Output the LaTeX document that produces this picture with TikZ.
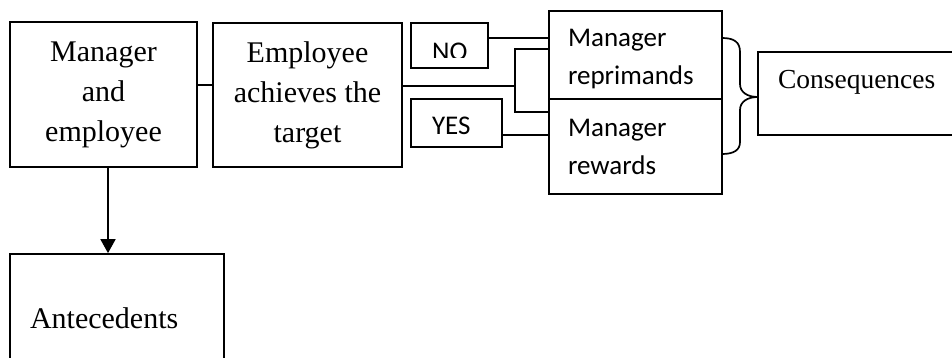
\documentclass[tikz,border=0pt]{standalone}
\usepackage{fontspec}
\setmainfont{Liberation Serif}
\newfontfamily\calib{Carlito}
\usetikzlibrary{arrows.meta}
\begin{document}
\begin{tikzpicture}[x=1pt,y=-1pt,
  frame/.style={draw, line width=1.7pt, rectangle, inner sep=0pt},
  serifbox/.style={frame, align=center, font=\fontsize{30}{40}\selectfont},
  sansbox/.style={frame, align=left, font=\calib\fontsize{27}{38}\selectfont, inner xsep=19pt},
  tagbox/.style={frame, align=left, font=\calib\fontsize{27}{32}\selectfont, inner xsep=21pt},
  plainbox/.style={frame, align=left, inner xsep=20pt},
  link/.style={line width=1.7pt}]
\useasboundingbox (0,0) rectangle (952,358);

% main boxes
\node[serifbox, minimum width=187pt, minimum height=145pt] (me) at (103.5,94.5) {Manager\\and\\employee};
\node[serifbox, minimum width=189pt, minimum height=144pt] (tgt) at (307.5,95) {Employee\\achieves the\\target};
\node[sansbox, text width=135pt, minimum height=88pt] (rep) at (635.5,55) {\rule{0pt}{25.5pt}Manager\\reprimands};
\node[sansbox, text width=135pt, minimum height=95pt] (rew) at (635.5,146.5) {Manager\\rewards};
\node[plainbox, text width=180pt, minimum height=83pt, font=\fontsize{27.5}{33}\selectfont,
      text height=18.5pt, text depth=27.5pt] (cons) at (868,93.5) {Consequences};
\node[plainbox, text width=174pt, minimum height=128pt, font=\fontsize{30}{36}\selectfont,
      text height=20pt, text depth=0pt] (ant) at (117,318) {Antecedents};

% answer tags
\node[frame, minimum width=77pt, minimum height=45pt] (no) at (449.5,45.5) {};
\begin{scope}
  \clip (no.north west) rectangle (no.east |- 0,58);
  \node[font=\calib\fontsize{27}{32}\selectfont, anchor=base west, inner sep=0pt] (notext) at (432,60.5) {NO};
\end{scope}
\node[tagbox, text width=49pt, minimum height=48pt, text height=24pt, text depth=0pt] (yes) at (456.5,123) {YES};

% connectors
\coordinate (fork) at (515,86);
\draw[link] ([yshift=9.5pt]me.east) -- ([yshift=9.5pt]me.east -| tgt.west);
\draw[link] ([yshift=9pt]tgt.east) -- (fork);
\draw[link] (rep.west |- 0,49) -| (fork) |- (rew.west |- 0,112);
\draw[link] (no.east |- 0,38) -- (rep.west |- 0,38);
\draw[link] (yes.east |- 0,135) -- (rew.west |- 0,135);
\draw[link, -{Triangle[width=15pt,length=14pt]}] ([xshift=4.5pt]me.south) -- ([xshift=4.5pt]me.south |- ant.north);

% curly brace grouping the two outcomes
\draw[link] (722,38) .. controls (734,38) and (740,42) .. (740,52) -- (740,84)
  .. controls (740,92) and (747,97) .. (758,97)
  .. controls (747,97) and (740,102) .. (740,110) -- (740,142)
  .. controls (740,150) and (734,154) .. (722,154);
\end{tikzpicture}
\end{document}
